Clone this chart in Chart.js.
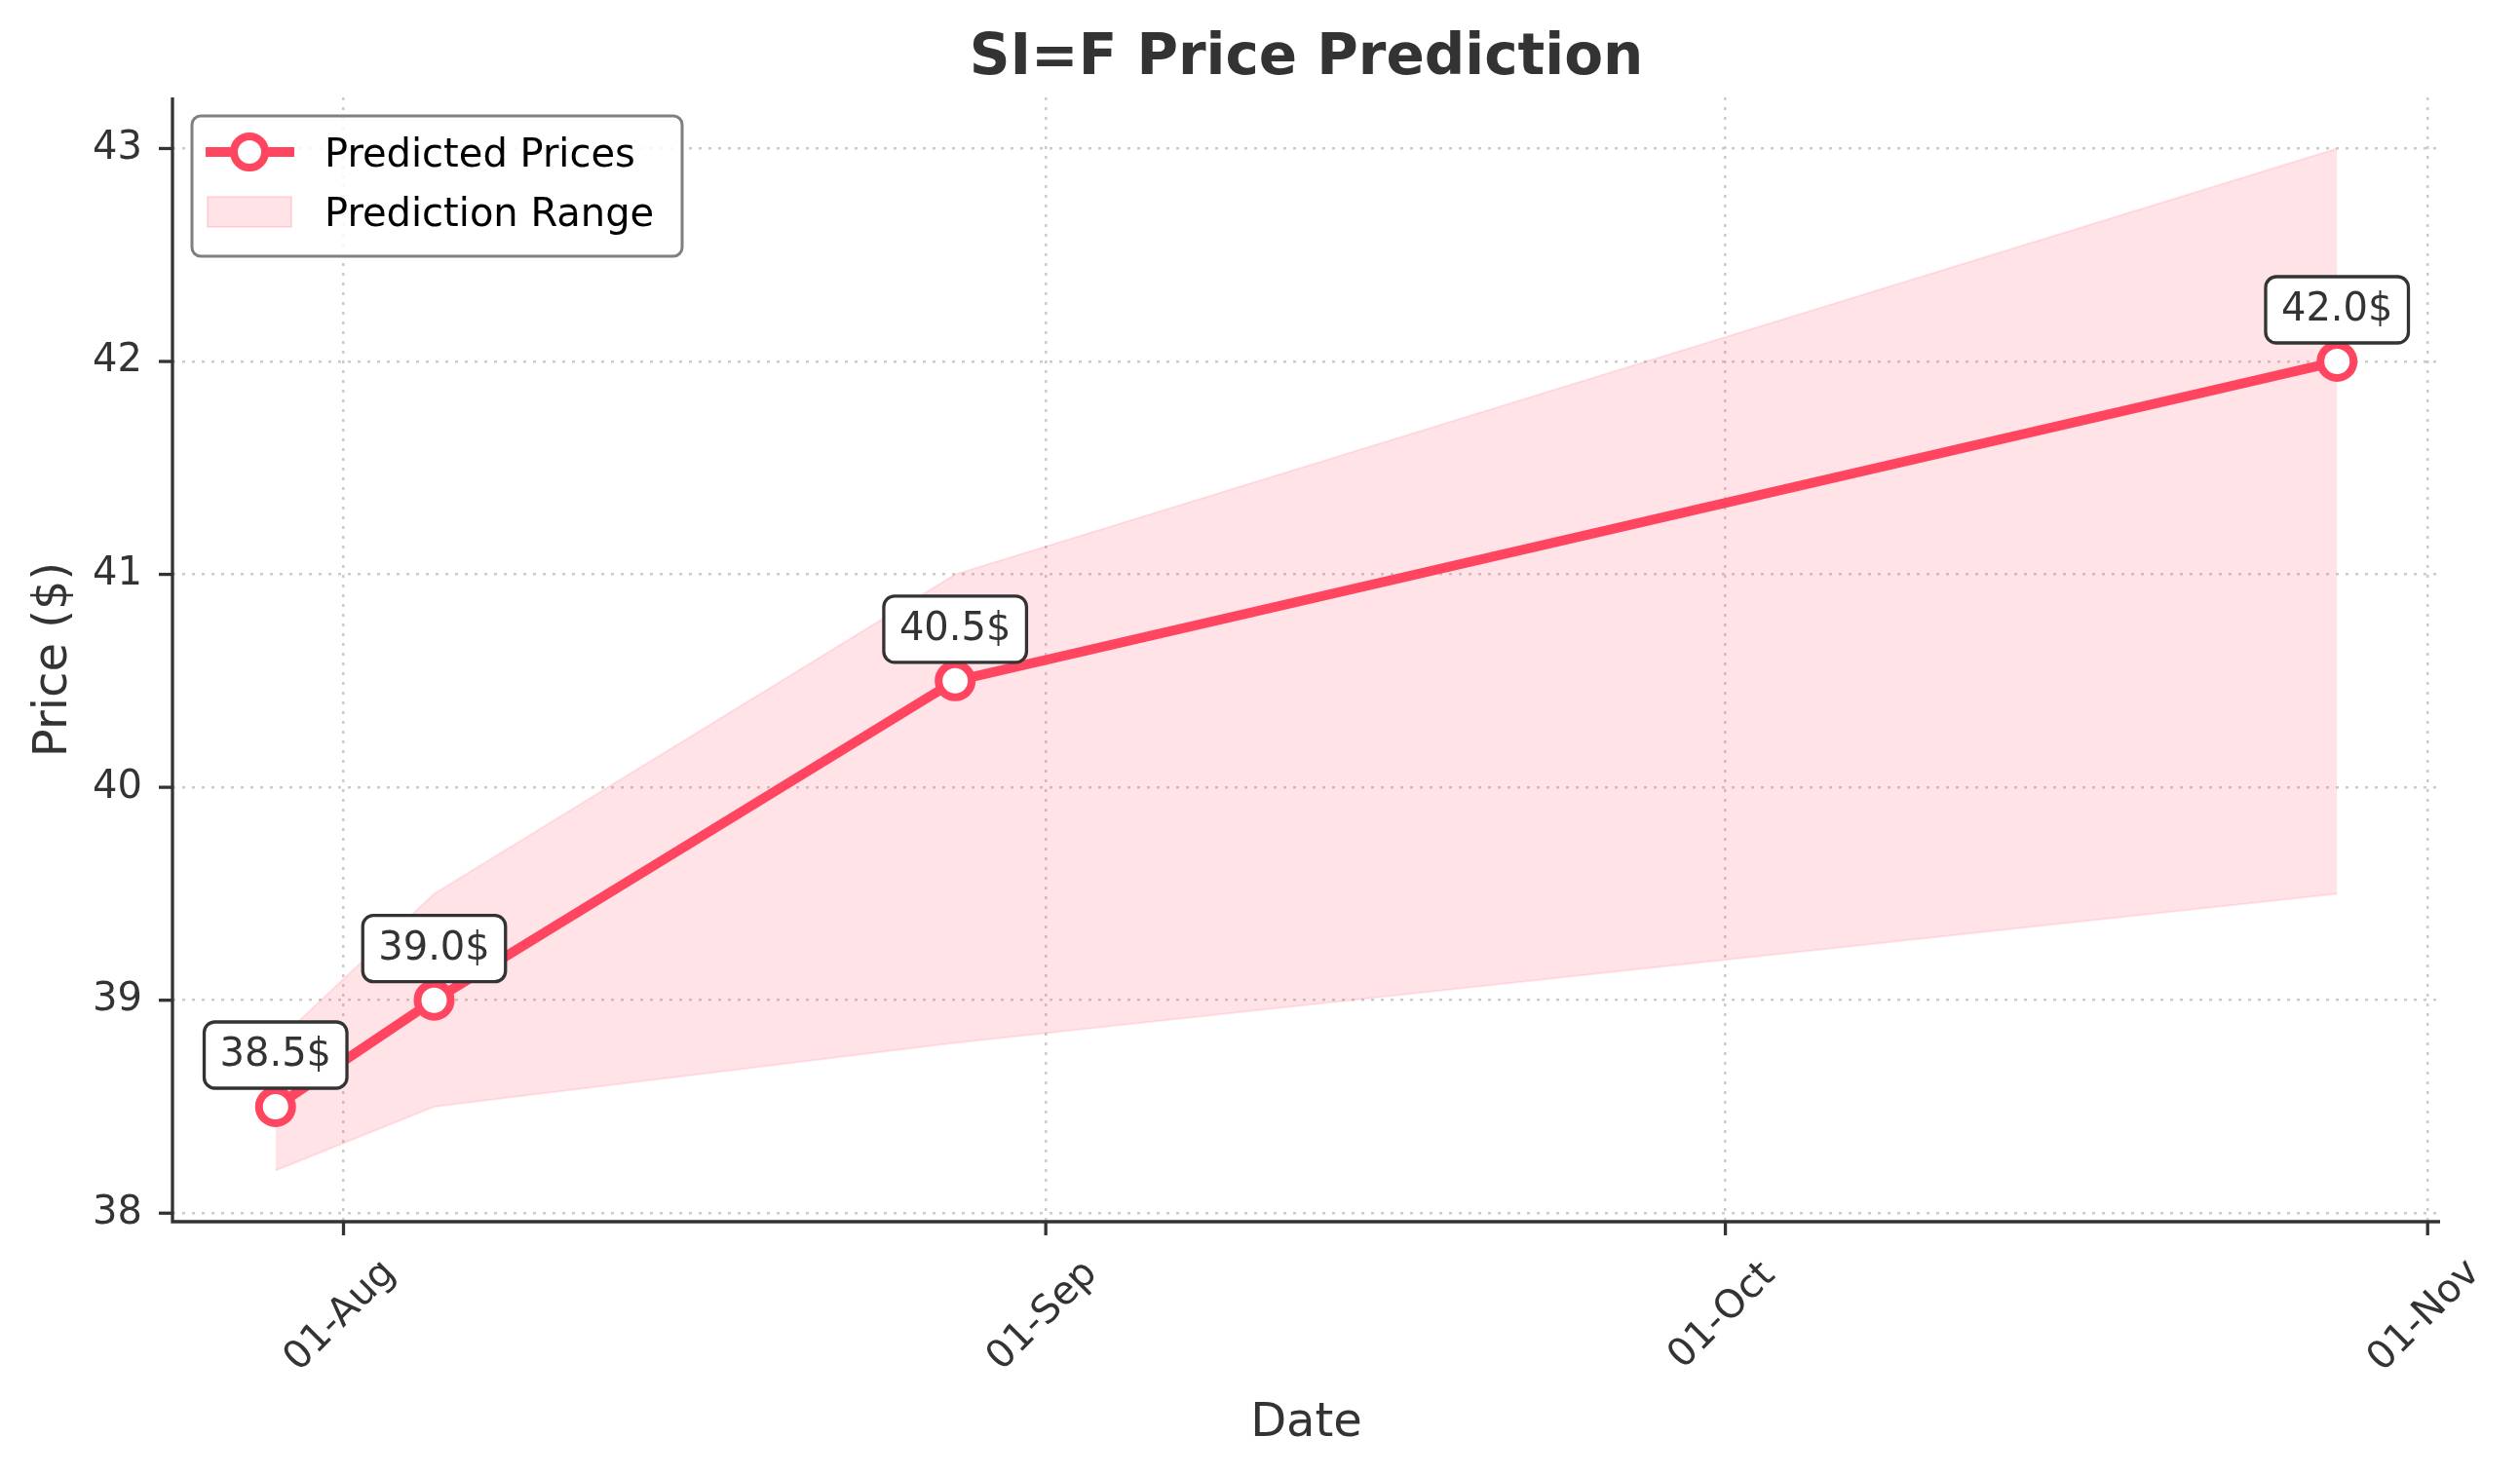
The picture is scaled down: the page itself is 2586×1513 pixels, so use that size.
<!DOCTYPE html>
<html>
<head>
<meta charset="utf-8">
<script src="https://cdn.jsdelivr.net/npm/chart.js@4.4.1/dist/chart.umd.min.js"></script>
<style>
  html, body { margin: 0; padding: 0; background: #fff; }
  canvas { display: block; }
</style>
</head>
<body>
<canvas id="myChart" width="2586" height="1513"></canvas>
<script>
// values
var dates = ['2024-07-29', '2024-08-05', '2024-08-28', '2024-10-28'];
var predicted = [38.5, 39.0, 40.5, 42.0];
var upper = [38.8, 39.5, 41.0, 43.0];
var lower = [38.2, 38.5, 38.8, 39.5];
var tickDates = ['2024-08-01', '2024-09-01', '2024-10-01', '2024-11-01'];
var tickLabels = ['01-Aug', '01-Sep', '01-Oct', '01-Nov'];
var yTicks = [38, 39, 40, 41, 42, 43];

var FONT = '"DejaVu Sans", "Liberation Sans", sans-serif';
var RED = '#ff4560';
var INK = '#333333';

function dayNum(s) {
    var p = s.split('-');
    return Date.UTC(+p[0], +p[1] - 1, +p[2]) / 86400000;
}
function pts(vals) {
    return vals.map(function (v, i) { return { x: dayNum(dates[i]), y: v }; });
}

var xs = dates.map(dayNum);
var xPad = (xs[xs.length - 1] - xs[0]) * 0.05;
var yLo = Math.min.apply(null, lower), yHi = Math.max.apply(null, upper);
var yPad = (yHi - yLo) * 0.05;

function roundRect(ctx, x, y, w, h, r) {
    ctx.beginPath();
    ctx.moveTo(x + r, y);
    ctx.lineTo(x + w - r, y);
    ctx.arcTo(x + w, y, x + w, y + r, r);
    ctx.lineTo(x + w, y + h - r);
    ctx.arcTo(x + w, y + h, x + w - r, y + h, r);
    ctx.lineTo(x + r, y + h);
    ctx.arcTo(x, y + h, x, y + h - r, r);
    ctx.lineTo(x, y + r);
    ctx.arcTo(x, y, x + r, y, r);
    ctx.closePath();
}

var decor = {
    id: 'decor',
    afterDraw: function (chart) {
        var ctx = chart.ctx;
        var area = chart.chartArea;
        var sx = chart.scales.x, sy = chart.scales.y;
        ctx.save();

        // axis lines (left + bottom only)
        ctx.strokeStyle = INK;
        ctx.lineWidth = 3.3;
        ctx.beginPath();
        ctx.moveTo(area.left, area.top);
        ctx.lineTo(area.left, area.bottom);
        ctx.lineTo(area.right, area.bottom);
        ctx.stroke();

        // tick marks + labels
        ctx.fillStyle = INK;
        ctx.font = '40px ' + FONT;
        tickDates.forEach(function (d, i) {
            var px = sx.getPixelForValue(dayNum(d));
            ctx.beginPath();
            ctx.moveTo(px, area.bottom);
            ctx.lineTo(px, area.bottom + 14);
            ctx.stroke();
            ctx.save();
            ctx.translate(px - 3, area.bottom + 97);
            ctx.rotate(-Math.PI / 4);
            ctx.textAlign = 'center';
            ctx.textBaseline = 'middle';
            ctx.fillText(tickLabels[i], 0, 0);
            ctx.restore();
        });
        yTicks.forEach(function (v) {
            var py = sy.getPixelForValue(v);
            ctx.beginPath();
            ctx.moveTo(area.left - 14, py);
            ctx.lineTo(area.left, py);
            ctx.stroke();
            ctx.textAlign = 'right';
            ctx.textBaseline = 'middle';
            ctx.fillText(String(v), area.left - 31, py);
        });

        // axis titles + title
        ctx.font = '48px ' + FONT;
        ctx.textAlign = 'center';
        ctx.textBaseline = 'alphabetic';
        ctx.fillText('Date', (area.left + area.right) / 2, 1474);
        ctx.save();
        ctx.translate(68, (area.top + area.bottom) / 2);
        ctx.rotate(-Math.PI / 2);
        ctx.fillText('Price ($)', 0, 0);
        ctx.restore();
        ctx.font = 'bold 58px ' + FONT;
        ctx.fillText('SI=F Price Prediction', (area.left + area.right) / 2, 76);

        // value boxes
        ctx.font = '40px ' + FONT;
        predicted.forEach(function (v, i) {
            var px = sx.getPixelForValue(dayNum(dates[i]));
            var py = sy.getPixelForValue(v);
            var txt = v.toFixed(1) + '$';
            var w = ctx.measureText(txt).width + 32;
            var h = 68;
            var cy = py - 53;
            roundRect(ctx, px - w / 2, cy - h / 2, w, h, 11);
            ctx.fillStyle = '#ffffff';
            ctx.fill();
            ctx.lineWidth = 3.3;
            ctx.strokeStyle = INK;
            ctx.stroke();
            ctx.fillStyle = INK;
            ctx.textAlign = 'center';
            ctx.textBaseline = 'middle';
            ctx.fillText(txt, px, cy + 1);
        });

        // legend
        roundRect(ctx, 197, 119, 503, 144, 9);
        ctx.fillStyle = 'rgba(255,255,255,0.85)';
        ctx.fill();
        ctx.lineWidth = 3;
        ctx.strokeStyle = '#808080';
        ctx.stroke();
        ctx.strokeStyle = RED;
        ctx.lineWidth = 10;
        ctx.beginPath();
        ctx.moveTo(211, 156);
        ctx.lineTo(302, 156);
        ctx.stroke();
        ctx.beginPath();
        ctx.arc(256, 156, 16, 0, Math.PI * 2);
        ctx.fillStyle = '#ffffff';
        ctx.fill();
        ctx.lineWidth = 8;
        ctx.stroke();
        ctx.fillStyle = 'rgba(255,69,96,0.15)';
        ctx.fillRect(213, 202, 86, 31);
        ctx.strokeStyle = 'rgba(255,69,96,0.15)';
        ctx.lineWidth = 2;
        ctx.strokeRect(213, 202, 86, 31);
        ctx.fillStyle = '#000000';
        ctx.textAlign = 'left';
        ctx.textBaseline = 'alphabetic';
        ctx.fillText('Predicted Prices', 333, 171);
        ctx.fillText('Prediction Range', 333, 232);

        ctx.restore();
    }
};

var gridOpts = { color: 'rgba(190,190,190,0.8)', lineWidth: 2.5, drawTicks: false };
var borderOpts = { display: false, dash: [3, 7] };

var ctx = document.getElementById('myChart').getContext('2d');
var myChart = new Chart(ctx, {
    type: 'line',
    data: {
        datasets: [{
            label: 'Predicted Prices',
            data: pts(predicted),
            borderColor: RED,
            borderWidth: 10,
            backgroundColor: '#ffffff',
            pointBackgroundColor: '#ffffff',
            pointBorderColor: RED,
            pointBorderWidth: 8,
            pointRadius: 17,
            tension: 0,
            fill: false
        }, {
            label: 'upper',
            data: pts(upper),
            borderColor: 'rgba(255,69,96,0.12)',
            borderWidth: 2,
            backgroundColor: 'rgba(255,69,96,0.15)',
            pointRadius: 0,
            tension: 0,
            fill: '+1'
        }, {
            label: 'lower',
            data: pts(lower),
            borderColor: 'rgba(255,69,96,0.12)',
            borderWidth: 2,
            pointRadius: 0,
            tension: 0,
            fill: false
        }]
    },
    options: {
        responsive: false,
        devicePixelRatio: 1,
        animation: false,
        layout: { padding: { left: 177, right: 82, top: 100, bottom: 259 } },
        plugins: {
            legend: { display: false },
            tooltip: { enabled: false },
            title: { display: false }
        },
        scales: {
            x: {
                type: 'linear',
                min: xs[0] - xPad,
                max: xs[xs.length - 1] + xPad,
                afterBuildTicks: function (scale) {
                    scale.ticks = tickDates.map(function (d) { return { value: dayNum(d) }; });
                },
                ticks: { display: false },
                grid: gridOpts,
                border: borderOpts
            },
            y: {
                type: 'linear',
                min: yLo - yPad,
                max: yHi + yPad,
                afterBuildTicks: function (scale) {
                    scale.ticks = yTicks.map(function (v) { return { value: v }; });
                },
                ticks: { display: false },
                grid: gridOpts,
                border: borderOpts
            }
        }
    },
    plugins: [decor]
});
</script>
</body>
</html>
